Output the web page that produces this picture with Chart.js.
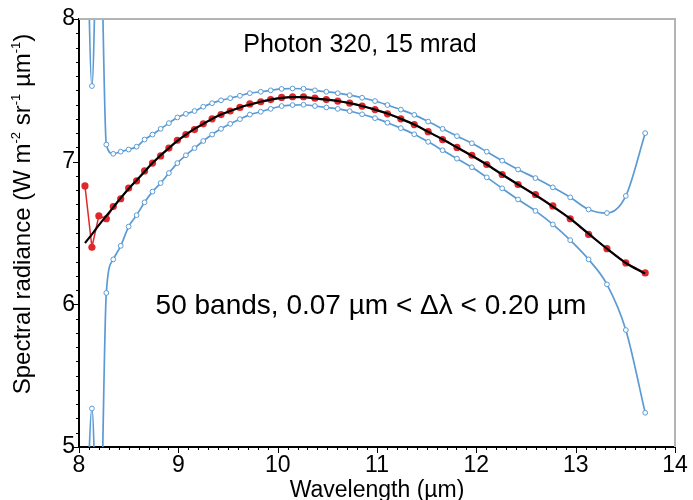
<!DOCTYPE html>
<html>
<head>
<meta charset="utf-8">
<script src="https://cdn.jsdelivr.net/npm/chart.js@4.4.1/dist/chart.umd.min.js"></script>
<style>
  html, body { margin: 0; padding: 0; background: #fff; }
</style>
</head>
<body>
<canvas id="grafico" width="693" height="500"></canvas>
<script>
// Band centres (µm) and radiances
const wavelength = [8.06, 8.13, 8.20, 8.275, 8.345, 8.42, 8.50, 8.58, 8.66, 8.74,
  8.822, 8.905, 8.99, 9.076, 9.163, 9.251, 9.34, 9.43, 9.522, 9.62, 9.72,
  9.83, 9.93, 10.04, 10.15, 10.26, 10.375, 10.49, 10.605, 10.725, 10.85, 10.98,
  11.105, 11.24, 11.375, 11.515, 11.66, 11.805, 11.955, 12.105, 12.26, 12.42,
  12.595, 12.77, 12.945, 13.13, 13.315, 13.505, 13.70];

const radianceMeasured = [6.83, 6.40, 6.62, 6.60, 6.685, 6.74, 6.815, 6.865, 6.935, 6.99,
  7.04, 7.095, 7.15, 7.19, 7.225, 7.265, 7.30, 7.33, 7.355, 7.38, 7.405,
  7.42, 7.435, 7.45, 7.455, 7.455, 7.445, 7.435, 7.425, 7.41, 7.39, 7.365,
  7.335, 7.30, 7.26, 7.21, 7.155, 7.10, 7.045, 6.98, 6.91, 6.84,
  6.77, 6.69, 6.60, 6.49, 6.39, 6.29, 6.22];

const radianceFit = [6.43, 6.49, 6.555, 6.62, 6.68, 6.745, 6.81, 6.87, 6.93, 6.99,
  7.045, 7.095, 7.145, 7.19, 7.23, 7.265, 7.30, 7.33, 7.355, 7.38, 7.40,
  7.42, 7.435, 7.447, 7.453, 7.453, 7.443, 7.435, 7.425, 7.41, 7.39, 7.365,
  7.337, 7.30, 7.26, 7.21, 7.157, 7.10, 7.042, 6.98, 6.91, 6.84,
  6.765, 6.685, 6.60, 6.495, 6.39, 6.29, 6.215];

const radianceUpper = [9.68, 7.53, 9.12, 7.12, 7.055, 7.07, 7.085, 7.105, 7.155, 7.19,
  7.23, 7.27, 7.31, 7.335, 7.355, 7.385, 7.41, 7.43, 7.445, 7.462, 7.48,
  7.49, 7.50, 7.51, 7.513, 7.511, 7.50, 7.49, 7.48, 7.466, 7.448, 7.425,
  7.397, 7.365, 7.328, 7.281, 7.23, 7.179, 7.129, 7.07, 7.007, 6.945,
  6.885, 6.82, 6.75, 6.665, 6.64, 6.76, 7.20];

const radianceLower = [3.98, 5.27, 3.95, 6.08, 6.315, 6.41, 6.545, 6.625, 6.715, 6.79,
  6.85, 6.92, 6.99, 7.045, 7.095, 7.145, 7.19, 7.23, 7.265, 7.298, 7.33,
  7.35, 7.37, 7.39, 7.397, 7.399, 7.39, 7.38, 7.37, 7.354, 7.332, 7.305,
  7.273, 7.235, 7.192, 7.139, 7.08, 7.021, 6.961, 6.89, 6.813, 6.735,
  6.655, 6.56, 6.45, 6.315, 6.14, 5.82, 5.24];

const xTicks = [8, 9, 10, 11, 12, 13, 14];
const yTicks = [5, 6, 7, 8];

const FONTE = "'Liberation Sans', Arial, Helvetica, sans-serif";
const AZUL = '#5b9bd5';
const VERMELHO = '#e0282c';

function pares(ys) {
    return wavelength.map((x, i) => ({ x: x, y: ys[i] }));
}

// frame, minor/major ticks
const molduraTicks = {
    id: 'molduraTicks',
    afterDraw(chart) {
        const { ctx, chartArea: a, scales: { x, y } } = chart;
        ctx.save();
        ctx.strokeStyle = '#b4b4b4';
        ctx.lineWidth = 2;
        ctx.beginPath();
        ctx.moveTo(a.left, a.top);
        ctx.lineTo(a.right, a.top);
        ctx.lineTo(a.right, a.bottom);
        ctx.stroke();

        ctx.strokeStyle = '#000';
        ctx.lineWidth = 1;
        ctx.beginPath();
        for (let i = 0; i <= 60; i++) {
            const px = Math.round(x.getPixelForValue(8 + i / 10)) + 0.5;
            const len = i % 10 === 0 ? 6 : 3;
            ctx.moveTo(px, a.bottom);
            ctx.lineTo(px, a.bottom + len);
        }
        for (let i = 0; i <= 30; i++) {
            const py = Math.round(y.getPixelForValue(5 + i / 10)) + 0.5;
            const len = i % 10 === 0 ? 6 : 3;
            ctx.moveTo(a.left, py);
            ctx.lineTo(a.left - len, py);
        }
        ctx.stroke();
        ctx.restore();
    }
};

// annotations and the y-axis title with superscripts
const textos = {
    id: 'textos',
    afterDraw(chart) {
        const { ctx } = chart;
        ctx.save();
        ctx.fillStyle = '#000';
        ctx.textBaseline = 'alphabetic';
        ctx.textAlign = 'center';
        ctx.font = '25px ' + FONTE;
        ctx.fillText('Photon 320, 15 mrad', 360, 52);
        ctx.font = '28px ' + FONTE;
        ctx.fillText('50 bands, 0.07 \u00b5m < \u0394\u03bb < 0.20 \u00b5m', 371, 314);

        // y title, rotated
        const partes = [
            ['Spectral radiance (W m', false], ['-2', true], [' sr', false],
            ['-1', true], [' \u00b5m', false], ['-1', true], [')', false]
        ];
        const tam = 24, tamSup = 13;
        let total = 0;
        partes.forEach(([t, sup]) => {
            ctx.font = (sup ? tamSup : tam) + 'px ' + FONTE;
            total += ctx.measureText(t).width;
        });
        ctx.translate(30, 214);
        ctx.rotate(-Math.PI / 2);
        ctx.textAlign = 'left';
        let pos = -total / 2;
        partes.forEach(([t, sup]) => {
            ctx.font = (sup ? tamSup : tam) + 'px ' + FONTE;
            ctx.fillText(t, pos, sup ? -10 : 0);
            pos += ctx.measureText(t).width;
        });
        ctx.restore();
    }
};

function desenharGrafico() {
    const ctx = document.getElementById('grafico').getContext('2d');

    const linhaAzul = {
        borderColor: AZUL,
        borderWidth: 1.7,
        pointRadius: 2.4,
        pointBackgroundColor: '#fff',
        pointBorderColor: AZUL,
        pointBorderWidth: 1,
        cubicInterpolationMode: 'monotone',
        order: 2
    };

    new Chart(ctx, {
        type: 'line',
        data: {
            datasets: [
                Object.assign({ label: 'upper', data: pares(radianceUpper) }, linhaAzul),
                Object.assign({ label: 'lower', data: pares(radianceLower) }, linhaAzul),
                {
                    label: 'measured',
                    data: pares(radianceMeasured),
                    borderColor: VERMELHO,
                    borderWidth: 1.5,
                    pointRadius: 3.6,
                    pointBackgroundColor: VERMELHO,
                    pointBorderWidth: 0,
                    tension: 0,
                    order: 1
                },
                {
                    label: 'fit',
                    data: pares(radianceFit),
                    borderColor: '#000',
                    borderWidth: 2.2,
                    pointRadius: 0,
                    cubicInterpolationMode: 'monotone',
                    order: 0
                }
            ]
        },
        options: {
            responsive: false,
            animation: false,
            layout: { padding: { top: 19, right: 18, left: 0, bottom: 0 } },
            plugins: {
                legend: { display: false },
                tooltip: { enabled: false }
            },
            scales: {
                x: {
                    type: 'linear',
                    min: 8,
                    max: 14,
                    afterBuildTicks: s => { s.ticks = xTicks.map(v => ({ value: v })); },
                    afterFit: s => { s.height = 53; },
                    ticks: { color: '#000', font: { family: FONTE, size: 23 }, padding: 5, maxRotation: 0 },
                    grid: { display: false, drawTicks: false },
                    border: { display: true, color: '#000', width: 2 },
                    title: {
                        display: true,
                        text: 'Wavelength (\u00b5m)',
                        color: '#000',
                        font: { family: FONTE, size: 23, lineHeight: 0.85 },
                        padding: 0
                    }
                },
                y: {
                    type: 'linear',
                    min: 5,
                    max: 8,
                    afterBuildTicks: s => { s.ticks = yTicks.map(v => ({ value: v })); },
                    afterFit: s => { s.width = 79; },
                    ticks: { color: '#000', font: { family: FONTE, size: 23 }, padding: 4 },
                    grid: { display: false, drawTicks: false },
                    border: { display: true, color: '#000', width: 2 }
                }
            }
        },
        plugins: [molduraTicks, textos]
    });
}

window.onload = desenharGrafico;
</script>
</body>
</html>
